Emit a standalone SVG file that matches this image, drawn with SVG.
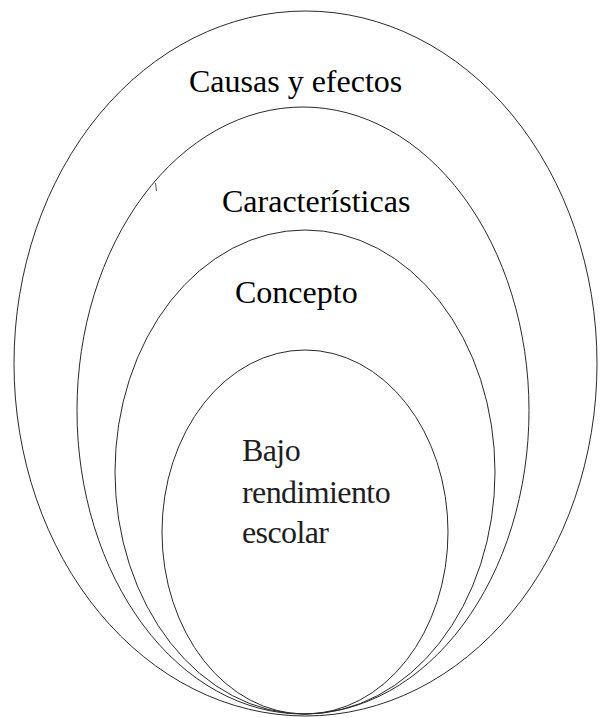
<svg xmlns="http://www.w3.org/2000/svg" width="605" height="718" viewBox="0 0 605 718">
  <style>
    .ring { fill: none; stroke: #2a2a2a; stroke-width: 1; }
    .lbl { font-family: "Liberation Serif", "Times New Roman", serif; font-size: 32px; fill: #000; }
    .core { font-family: "Liberation Serif", "Times New Roman", serif; font-size: 32px; fill: #1e1e1e; letter-spacing: -0.6px; }
  </style>
  <rect x="0" y="0" width="605" height="718" fill="#ffffff"/>
  <g id="node-causas">
    <ellipse class="ring" cx="305.5" cy="363.5" rx="291.5" ry="352.5"/>
    <text class="lbl" x="189" y="92">Causas y efectos</text>
  </g>
  <g id="node-caracteristicas">
    <ellipse class="ring" cx="303" cy="410.5" rx="226" ry="303.5"/>
    <text class="lbl" x="222" y="212">Características</text>
  </g>
  <g id="node-concepto">
    <ellipse class="ring" cx="305" cy="472" rx="190" ry="242"/>
    <text class="lbl" x="235" y="303">Concepto</text>
  </g>
  <g id="node-bajo">
    <ellipse class="ring" cx="305" cy="532" rx="143" ry="182"/>
    <text class="core" x="242" y="461">Bajo</text>
    <text class="core" x="242" y="503">rendimiento</text>
    <text class="core" x="242" y="543">escolar</text>
  </g>
  <g id="connectors"/>
  <path d="M155.5 183 L156.5 191" stroke="#555" stroke-width="1" fill="none"/>
</svg>
